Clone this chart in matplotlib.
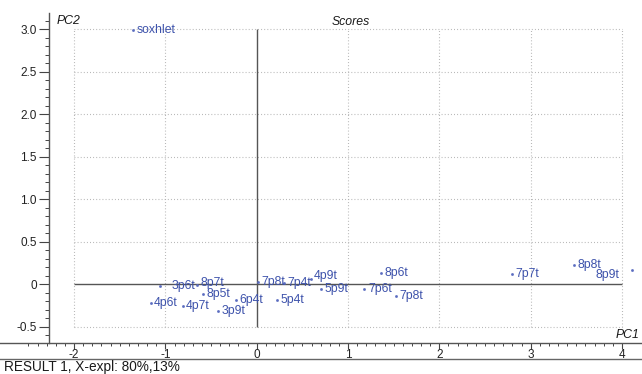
import numpy as np
import matplotlib.pyplot as plt

plt.rcParams['font.family'] = ['Liberation Sans', 'DejaVu Sans']

# PCA scores, first two components
names = ['soxhlet', '3p6t', '8p7t', '4p6t', '4p7t', '8p5t', '3p9t', '6p4t',
         '7p8t', '7p4t', '4p9t', '5p9t', '5p4t', '7p6t', '8p6t', '7p8t',
         '7p7t', '8p8t', '8p9t']
pc1 = [-1.35, -1.06, -0.65, -1.16, -0.81, -0.59, -0.42, -0.23,
       0.01, 0.30, 0.59, 0.70, 0.22, 1.18, 1.36, 1.52,
       2.80, 3.47, 4.11]
pc2 = [2.99, -0.02, -0.01, -0.22, -0.26, -0.11, -0.32, -0.18,
       0.03, 0.015, 0.06, -0.055, -0.19, -0.05, 0.13, -0.14,
       0.12, 0.23, 0.17]

xticks = [-2, -1, 0, 1, 2, 3, 4]
xticklabels = ['-2', '-1', '0', '1', '2', '3', '4']
yticks = [-0.5, 0, 0.5, 1.0, 1.5, 2.0, 2.5, 3.0]
yticklabels = ['-0.5', '0', '0.5', '1.0', '1.5', '2.0', '2.5', '3.0']

title = 'Scores'
footer = 'RESULT 1, X-expl: 80%,13%'

W, H = 642, 374
blue = '#3d52ab'
axis_col = '#444444'

fig = plt.figure(figsize=(W / 100, H / 100), dpi=100)
fig.patch.set_facecolor('white')
ax = fig.add_axes([0, 31 / H, 1, 330 / H])
ax.set_xlim(-2.811, 4.219)
ax.set_ylim(-0.691, 3.192)

for s in ['top', 'right']:
    ax.spines[s].set_visible(False)
ax.spines['left'].set_position(('data', -2.273))
for s in ['left', 'bottom']:
    ax.spines[s].set_color('#555555')
    ax.spines[s].set_linewidth(1.0)

# dotted grid inside the score region
grid_kw = dict(color='#b0b0b0', lw=0.8, linestyle=(0, (0.8, 2.0)), zorder=1)
for yv in yticks:
    if yv != 0:
        ax.hlines(yv, xticks[0], xticks[-1], **grid_kw)
for xv in xticks:
    if xv != 0:
        ax.vlines(xv, yticks[0], yticks[-1], **grid_kw)

# zero axes
ax.hlines(0, xticks[0], xticks[-1], color='#555555', lw=1.0, zorder=2)
ax.vlines(0, yticks[0], yticks[-1], color='#555555', lw=1.0, zorder=2)

ax.set_xticks(xticks, xticklabels)
ax.set_xticks(np.round(np.arange(-2.5, 4.001, 0.1), 2), minor=True)
ax.set_yticks(yticks, yticklabels)
ax.set_yticks(np.round(np.arange(-0.6, 3.101, 0.1), 2), minor=True)
ax.tick_params(axis='y', which='major', direction='out', length=7, width=0.8,
               colors=axis_col, labelsize=8.5, pad=2)
ax.tick_params(axis='y', which='minor', direction='out', length=3, width=0.7,
               colors=axis_col)
ax.tick_params(axis='x', which='major', direction='out', length=4, width=0.8,
               colors=axis_col, labelsize=8.5, pad=0)
ax.tick_params(axis='x', which='minor', direction='out', length=2.2, width=0.7,
               colors=axis_col)
for lab in ax.get_xticklabels() + ax.get_yticklabels():
    lab.set_color('#222222')

# sample points and their names
ax.plot(pc1, pc2, linestyle='none', marker='s', markersize=0.9,
        color='#5a6cc0', zorder=3)
offsets = {1: (8.5, 0), 2: (2.5, 1.7), 10: (2.5, 2.0), 18: (-9.0, -4.0)}
for i, (name, x, y) in enumerate(zip(names, pc1, pc2)):
    dx, dy = offsets.get(i, (2.5, 0))
    ax.annotate(name, (x, y), xytext=(dx, dy), textcoords='offset points',
                ha='right' if dx < 0 else 'left', va='center',
                fontsize=8.8, color=blue, zorder=4)

fig.text(57 / W, 1 - 21 / H, 'PC2', fontsize=8.8, style='italic',
         color='#1a1a1a', ha='left', va='center')
fig.text(332 / W, 1 - 22 / H, title, fontsize=8.8, style='italic',
         color='#1a1a1a', ha='left', va='center')
fig.text(640 / W, 1 - 334.5 / H, 'PC1', fontsize=8.8, style='italic',
         color='#1a1a1a', ha='right', va='center')

# footer separator and result text
fig.add_artist(plt.Line2D([0, 1], [1 - 359 / H, 1 - 359 / H],
                          transform=fig.transFigure, color='#666666', lw=1.0))
fig.text(4 / W, 1 - 367 / H, footer, fontsize=9.8, color='#1a1a1a',
         ha='left', va='center')

fig.savefig('out.png', dpi=100)
